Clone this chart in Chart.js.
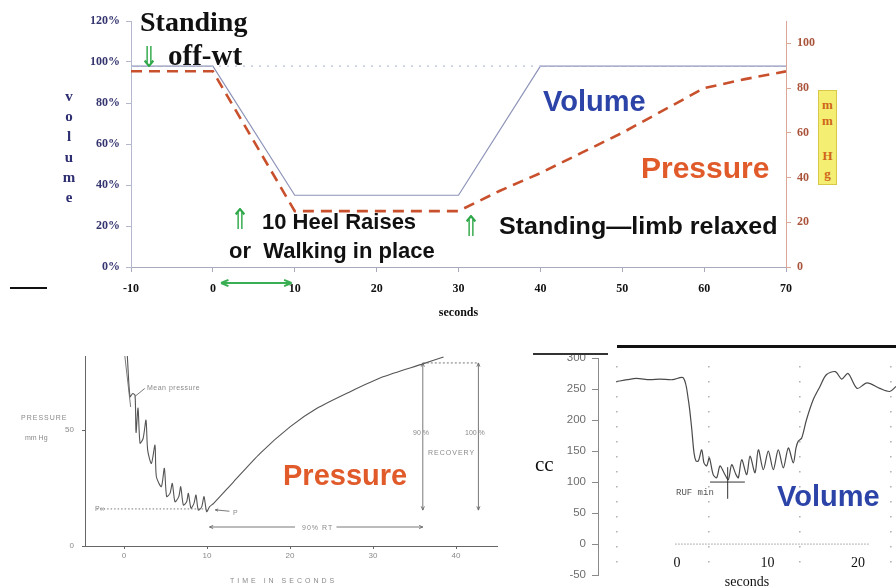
<!DOCTYPE html>
<html>
<head>
<meta charset="utf-8">
<script src="https://cdn.jsdelivr.net/npm/chart.js@4/dist/chart.umd.min.js"></script>
<style>
  body { margin: 0; background: #fff; }
  #wrap { position: relative; width: 896px; height: 588px; overflow: hidden; background: #fff; }
  canvas { position: absolute; }
  .t { position: absolute; white-space: nowrap; line-height: 1; }
  .serif { font-family: "Liberation Serif", serif; font-weight: bold; }
  .sans { font-family: "Liberation Sans", Arial, sans-serif; font-weight: bold; }
  .arrow { font-family: "DejaVu Sans", sans-serif; color: #2fa84a; font-size: 24px; transform: scaleY(1.2); transform-origin: top left; }
  .scan { font-family: "Liberation Sans", sans-serif; color: #8a8a8a; font-size: 7px; letter-spacing: 1px; }
  .mm { position: absolute; left: 818px; width: 19px; text-align: center; font-family: "Liberation Serif", serif; font-weight: bold; font-size: 13px; color: #d0661a; line-height: 1; }
  .bar { position: absolute; background: #111; }
</style>
</head>
<body>
<div id="wrap">
  <canvas id="topChart" width="896" height="330" style="left:0;top:0;width:896px;height:330px"></canvas>
  <canvas id="pressChart" width="510" height="248" style="left:0;top:340px;width:510px;height:248px"></canvas>
  <canvas id="volChart" width="376" height="248" style="left:520px;top:340px;width:376px;height:248px"></canvas>

  <!-- top chart text -->
  <div class="t serif" style="left:140px;top:8px;font-size:28px;color:#111">Standing</div>
  <div class="t serif" style="left:168px;top:41px;font-size:29px;color:#111">off-wt</div>
  <div class="t arrow" style="left:139px;top:43px">⇓</div>
  <div class="t sans" style="left:543px;top:87px;font-size:29px;color:#2c44a8">Volume</div>
  <div class="t sans" style="left:641px;top:153px;font-size:30px;color:#e05a2a">Pressure</div>
  <div class="t arrow" style="left:230px;top:205px">⇑</div>
  <div class="t sans" style="left:262px;top:211px;font-size:22px;color:#111">10 Heel Raises</div>
  <div class="t sans" style="left:229px;top:240px;font-size:22px;color:#111">or&nbsp; Walking in place</div>
  <div class="t arrow" style="left:461px;top:212px">⇑</div>
  <div class="t sans" style="left:499px;top:215px;font-size:23px;color:#111;transform:scaleX(1.09);transform-origin:left top">Standing—limb relaxed</div>
  <div class="t serif" style="left:62px;top:86px;width:14px;font-size:15px;color:#2e2e72;text-align:center;line-height:20.2px">v<br>o<br>l<br>u<br>m<br>e</div>
  <div style="position:absolute;left:818px;top:90px;width:19px;height:95px;background:#f4ee72;border:1px solid #d8c84a;box-sizing:border-box"></div>
  <div class="mm" style="top:98px">m</div>
  <div class="mm" style="top:114px">m</div>
  <div class="mm" style="top:149px">H</div>
  <div class="mm" style="top:167px">g</div>
  <div class="bar" style="left:10px;top:287px;width:37px;height:1.5px"></div>

  <!-- bottom-left scanned pressure chart text -->
  <div class="t scan" style="left:21px;top:414px">PRESSURE</div>
  <div class="t scan" style="left:25px;top:434px;letter-spacing:0">mm Hg</div>
  <div class="t scan" style="left:147px;top:384px;letter-spacing:0.5px">Mean pressure</div>
  <div class="t scan" style="left:413px;top:429px;letter-spacing:0">90 %</div>
  <div class="t scan" style="left:465px;top:429px;letter-spacing:0">100 %</div>
  <div class="t scan" style="left:428px;top:449px">RECOVERY</div>
  <div class="t scan" style="left:302px;top:524px">90% RT</div>
  <div class="t scan" style="left:95px;top:505px;letter-spacing:0">P∞</div>
  <div class="t scan" style="left:233px;top:509px;letter-spacing:0">P</div>
  <div class="t scan" style="left:230px;top:577px;letter-spacing:3px">TIME IN SECONDS</div>
  <div class="t sans" style="left:283px;top:461px;font-size:29px;color:#e05a2a">Pressure</div>

  <!-- bottom-right volume trace text -->
  <div class="bar" style="left:617px;top:345px;width:279px;height:3px"></div>
  <div class="bar" style="left:533px;top:353px;width:75px;height:1.5px;background:#333"></div>
  <div class="t" style="left:535px;top:454px;font-family:'Liberation Serif',serif;font-size:21px;color:#111">cc</div>
  <div class="t" style="left:676px;top:489px;font-family:'Liberation Mono',monospace;font-size:9px;color:#555">RUF min</div>
  <div class="t sans" style="left:777px;top:482px;font-size:29px;color:#2c44a8">Volume</div>
</div>

<script>
// ── TOP CHART DATA ─────────────────────────────────────────────
const volTime = [-10, 0, 10, 30, 40, 70];
const volPct = [98, 98, 35, 35, 98, 98];
const refTime = [-10, 70];
const refPct = [98, 98];
const presTime = [-10, 0, 10, 30, 35, 40, 45, 50, 55, 60, 65, 70];
const presMmHg = [87.5, 87.5, 25, 25, 34, 42, 51, 60, 70, 80, 84, 87.5];

// ── BOTTOM-LEFT (SCANNED PRESSURE) DATA ────────────────────────
const scanTime = [0.4, 0.72, 1.04, 1.33, 1.45, 1.69, 1.93, 2.3, 2.65, 2.85, 3.3, 3.73, 3.9, 4.5, 4.86, 5.14,
  5.54, 5.82, 6.14, 6.6, 6.83, 7.15, 7.55, 7.75, 8.07, 8.43, 8.67, 8.95, 9.36, 9.64, 9.96, 10.3,
  10.8, 13.2, 16.4, 20, 23.2, 27.2, 31.2, 36.1, 38.5];
const scanMmHg = [82, 64.4, 65.8, 65, 49, 59.5, 44.4, 46.4, 54.3, 41.4, 35.6, 43.5, 29.9, 25.6, 33.5, 21.3,
  22.7, 27, 19.1, 21.3, 25.6, 17.7, 19.1, 22.7, 16.3, 18.4, 22, 15.5, 16.9, 21.3, 14.8, 16.9,
  18.4, 27.7, 40, 51.4, 59.3, 66.5, 73, 78.7, 81.6];

// ── BOTTOM-RIGHT (VOLUME TRACE) DATA ───────────────────────────
const traceTime = [-6.7, -5.5, -4.5, -3, -1.9, -0.5, 0.7, 1.25, 1.6, 1.88, 2.1, 2.36, 2.73, 2.98, 3.28, 3.57,
  4.0, 4.38, 4.75, 5.19, 5.67, 6.04, 6.52, 6.78, 7.15, 7.7, 8.07, 8.62, 8.99, 9.54, 10.09, 10.64,
  11.19, 11.75, 12.3, 12.85, 13.15, 13.4, 13.78, 14.3, 15.06, 15.8, 16.5, 17.5, 18.2, 18.9, 19.9,
  21.0, 22.4, 23.5, 24.2];
const traceCc = [262, 265, 267, 265, 266, 265, 268, 233, 190, 147, 134, 134, 152, 131, 126, 139,
  112, 107, 126, 115, 104, 128, 112, 107, 136, 112, 142, 115, 152, 120, 150, 120,
  152, 123, 155, 131, 155, 166, 171, 200, 233, 254, 273, 278, 266, 275, 251,
  260, 251, 246, 254];
const zeroTime = [-0.2, 21.3];
const zeroCc = [0, 0];
const gridSecs = [-6.6, 3.5, 13.6, 23.6];

const pts = (xs, ys) => xs.map((x, i) => ({ x, y: ys[i] }));

function arrowHead(ctx, x1, y1, x2, y2, size) {
  const a = Math.atan2(y2 - y1, x2 - x1);
  ctx.beginPath();
  ctx.moveTo(x2, y2);
  ctx.lineTo(x2 - size * Math.cos(a - 0.4), y2 - size * Math.sin(a - 0.4));
  ctx.moveTo(x2, y2);
  ctx.lineTo(x2 - size * Math.cos(a + 0.4), y2 - size * Math.sin(a + 0.4));
  ctx.stroke();
}

function line(ctx, x1, y1, x2, y2, dash) {
  ctx.setLineDash(dash || []);
  ctx.beginPath();
  ctx.moveTo(x1, y1);
  ctx.lineTo(x2, y2);
  ctx.stroke();
  ctx.setLineDash([]);
}

const noPlugins = { legend: { display: false }, tooltip: { enabled: false } };
const serifBold = s => ({ family: "'Liberation Serif', serif", weight: 'bold', size: s });

// ── TOP CHART ──────────────────────────────────────────────────
const topMarks = {
  id: 'topMarks',
  afterDraw(chart) {
    const { ctx, scales: { x }, chartArea } = chart;
    const yy = chartArea.bottom + 16;
    const x1 = x.getPixelForValue(1), x2 = x.getPixelForValue(9.6);
    ctx.save();
    ctx.strokeStyle = '#3aae52';
    ctx.lineWidth = 2;
    line(ctx, x1, yy, x2, yy);
    arrowHead(ctx, x2, yy, x1, yy, 8);
    arrowHead(ctx, x1, yy, x2, yy, 8);
    ctx.restore();
  }
};

new Chart(document.getElementById('topChart'), {
  type: 'line',
  data: {
    datasets: [
      { data: pts(refTime, refPct), yAxisID: 'y', borderColor: '#b9c2dc', borderDash: [2, 6], borderWidth: 1.3, pointRadius: 0 },
      { data: pts(volTime, volPct), yAxisID: 'y', borderColor: '#8d93b8', borderWidth: 1.2, pointRadius: 0 },
      { data: pts(presTime, presMmHg), yAxisID: 'y1', borderColor: '#c9502c', borderDash: [11, 7], borderWidth: 2.6, pointRadius: 0 }
    ]
  },
  options: {
    responsive: false,
    animation: false,
    layout: { padding: { top: 21 } },
    plugins: noPlugins,
    scales: {
      x: {
        type: 'linear', min: -10, max: 70,
        ticks: { stepSize: 10, color: '#111', font: serifBold(12), padding: 10 },
        grid: { drawOnChartArea: false, tickLength: 5, color: '#a8aabb' },
        border: { color: '#a8aabb' },
        title: { display: true, text: 'seconds', color: '#111', font: serifBold(12), padding: { top: 4, bottom: 10 } },
        afterFit: s => { s.height = 63; }
      },
      y: {
        min: 0, max: 120,
        ticks: { stepSize: 20, color: '#34346f', font: serifBold(12), padding: 6, callback: v => v + '%' },
        grid: { drawOnChartArea: false, tickLength: 5, color: '#b4b8cc' },
        border: { color: '#b4b8cc' },
        afterFit: s => { s.width = 131; }
      },
      y1: {
        position: 'right', min: 0, max: 110,
        ticks: { stepSize: 20, includeBounds: false, color: '#a9533a', font: serifBold(12), padding: 6 },
        grid: { drawOnChartArea: false, tickLength: 5, color: '#dba898' },
        border: { color: '#dba898' },
        afterFit: s => { s.width = 110; }
      }
    }
  },
  plugins: [topMarks]
});

// ── BOTTOM-LEFT: SCANNED PRESSURE CURVE ────────────────────────
const pressMarks = {
  id: 'pressMarks',
  afterDraw(chart) {
    const { ctx, scales: { x, y } } = chart;
    const X = v => x.getPixelForValue(v), Y = v => y.getPixelForValue(v);
    ctx.save();
    ctx.strokeStyle = '#6a6a6a';
    ctx.lineWidth = 0.9;
    // recovery arrows
    [36.0, 42.7].forEach(t => {
      line(ctx, X(t), Y(79), X(t), Y(15.5));
      arrowHead(ctx, X(t), Y(70), X(t), Y(79), 4);
      arrowHead(ctx, X(t), Y(25), X(t), Y(15.5), 4);
    });
    line(ctx, X(36), Y(79), X(42.7), Y(79), [2, 2]);
    // 90% RT arrow
    line(ctx, X(10.3), Y(8.2), X(20.6), Y(8.2));
    line(ctx, X(25.6), Y(8.2), X(36), Y(8.2));
    arrowHead(ctx, X(15), Y(8.2), X(10.3), Y(8.2), 4);
    arrowHead(ctx, X(30), Y(8.2), X(36), Y(8.2), 4);
    // P-infinity dotted level
    line(ctx, X(-3.3), Y(16), X(9.9), Y(16), [1.5, 2]);
    // P pointer
    line(ctx, X(12.7), Y(15), X(11), Y(15.6));
    arrowHead(ctx, X(12.7), Y(15), X(11), Y(15.6), 3);
    // mean pressure pointer
    line(ctx, X(2.5), Y(68), X(1.3), Y(64.5));
    // thin initial spike
    line(ctx, X(0.1), Y(82), X(0.8), Y(60));
    ctx.restore();
  }
};

const scanTick = { family: "'Liberation Sans', sans-serif", size: 8 };

new Chart(document.getElementById('pressChart'), {
  type: 'line',
  data: {
    datasets: [
      { data: pts(scanTime, scanMmHg), borderColor: '#555', borderWidth: 1.1, pointRadius: 0, tension: 0.25 }
    ]
  },
  options: {
    responsive: false,
    animation: false,
    layout: { padding: { top: 16, right: 12.5 } },
    plugins: noPlugins,
    scales: {
      x: {
        type: 'linear', min: -4.7, max: 45,
        afterBuildTicks: s => { s.ticks = [0, 10, 20, 30, 40].map(v => ({ value: v })); },
        ticks: { color: '#8a8a8a', font: scanTick, padding: 2 },
        grid: { drawOnChartArea: false, tickLength: 3, color: '#666' },
        border: { color: '#666' },
        afterFit: s => { s.height = 42; }
      },
      y: {
        min: 0, max: 82,
        ticks: { stepSize: 50, includeBounds: false, color: '#8a8a8a', font: scanTick, padding: 8 },
        grid: { drawOnChartArea: false, tickLength: 3, color: '#666' },
        border: { color: '#666' },
        afterFit: s => { s.width = 85; }
      }
    }
  },
  plugins: [pressMarks]
});

// ── BOTTOM-RIGHT: VOLUME TRACE ─────────────────────────────────
const volMarks = {
  id: 'volMarks',
  afterDraw(chart) {
    const { ctx, scales: { x, y } } = chart;
    const X = v => x.getPixelForValue(v), Y = v => y.getPixelForValue(v);
    ctx.save();
    ctx.strokeStyle = '#333';
    ctx.lineWidth = 1;
    line(ctx, X(3.65), Y(100), X(7.5), Y(100));
    line(ctx, X(5.6), Y(124), X(5.6), Y(73));
    ctx.restore();
  }
};

new Chart(document.getElementById('volChart'), {
  type: 'line',
  data: {
    datasets: [
      { data: pts(zeroTime, zeroCc), borderColor: '#9a9a9a', borderDash: [1.5, 1.5], borderWidth: 1, pointRadius: 0 },
      { data: pts(traceTime, traceCc), borderColor: '#4a4a4a', borderWidth: 1.2, pointRadius: 0, tension: 0.3 }
    ]
  },
  options: {
    responsive: false,
    animation: false,
    layout: { padding: { top: 18, bottom: 11 } },
    plugins: noPlugins,
    scales: {
      x: {
        type: 'linear', min: -8.73, max: 24.2,
        position: { y: 1 },
        afterBuildTicks: s => { s.ticks = [0, 10, 20].map(v => ({ value: v })); },
        ticks: { color: '#111', font: { family: "'Liberation Serif', serif", size: 14 }, padding: 3 },
        grid: { display: false },
        border: { display: false },
        title: { display: true, text: 'seconds', color: '#111', font: { family: "'Liberation Serif', serif", size: 14 }, padding: { top: 0 } }
      },
      xg: {
        type: 'linear', min: -8.73, max: 24.2,
        position: { y: 300 },
        afterBuildTicks: s => { s.ticks = gridSecs.map(v => ({ value: v })); },
        ticks: { display: false },
        grid: { color: '#b4b4b4', lineWidth: 1.6, drawTicks: false },
        border: { display: false, dash: [1.6, 13.4], dashOffset: 7 }
      },
      y: {
        min: -50, max: 300,
        ticks: { stepSize: 25, color: '#6e6e6e', font: { family: "'Liberation Sans', sans-serif", size: 11.5 }, padding: 6 },
        grid: { drawOnChartArea: false, tickLength: 6, color: '#8a8a8a' },
        border: { color: '#8a8a8a' },
        afterFit: s => { s.width = 78; }
      }
    }
  },
  plugins: [volMarks]
});
</script>
</body>
</html>
